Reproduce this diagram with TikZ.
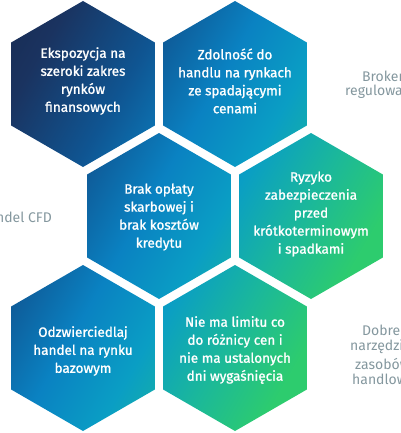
\documentclass[tikz,border=0pt]{standalone}
\usepackage{tikz}
\usepackage{fontspec}
\setmainfont{Fira Sans}
\newfontfamily\hexfont{Fira Sans}[FakeBold=1.2]
\definecolor{g0}{HTML}{182A50}
\definecolor{g1}{HTML}{1A3360}
\definecolor{g2}{HTML}{0F5592}
\definecolor{g3}{HTML}{0A82C2}
\definecolor{g4}{HTML}{0A9EC4}
\definecolor{g5}{HTML}{1BB89A}
\definecolor{g6}{HTML}{2DCC6E}
\definecolor{sidegray}{HTML}{84979E}
\pgfdeclareverticalshading{hexgrad}{100bp}{color(0bp)=(g0); color(26.5bp)=(g0); color(31.5bp)=(g1); color(39bp)=(g2); color(45.7bp)=(g3); color(51.5bp)=(g4); color(57.4bp)=(g5); color(63.2bp)=(g6); color(100bp)=(g6)}
\newcommand\hexcell[1]{(#1) ++(90:83pt) -- ++(210:83pt) -- ++(270:83pt) -- ++(330:83pt) -- ++(30:83pt) -- ++(90:83pt) -- cycle}
\begin{document}
\begin{tikzpicture}[x=1pt,y=1pt,
  hextext/.style={text=white, font=\hexfont\fontsize{13.5}{18}\selectfont, align=center, inner sep=0pt},
  sidetext/.style={text=sidegray, font=\fontsize{14}{17}\selectfont, inner sep=0pt}]
\useasboundingbox (0,0) rectangle (400,-433);
\clip (0,0) rectangle (400,-433);
\coordinate (c1) at (83,-84);
\coordinate (c2) at (235,-84);
\coordinate (c3) at (159,-216);
\coordinate (c4) at (311,-216);
\coordinate (c5) at (83,-348);
\coordinate (c6) at (235,-348);
\begin{scope}
  \clip \hexcell{c1} \hexcell{c2} \hexcell{c3} \hexcell{c4} \hexcell{c5} \hexcell{c6};
  \shade[shading=hexgrad, shading angle=-120] (-100,-516.5) rectangle (500,83.5);
\end{scope}
\node[hextext] (t1) at (83,-81) {Ekspozycja na\\szeroki zakres\\rynków\\finansowych};
\node[hextext] (t2) at (235,-81) {Zdolność do\\handlu na rynkach\\ze spadającymi\\cenami};
\node[hextext] (t3) at (159,-217) {Brak opłaty\\skarbowej i\\brak kosztów\\kredytu};
\node[hextext] (t4) at (311,-214) {Ryzyko\\zabezpieczenia\\przed\\krótkoterminowym\\i spadkami};
\node[hextext] (t5) at (83,-351) {Odzwierciedlaj\\handel na rynku\\bazowym};
\node[hextext] (t6) at (235,-350) {Nie ma limitu co\\do różnicy cen i\\nie ma ustalonych\\dni wygaśnięcia};
\node[sidetext, anchor=west] (s1) at (362,-76) {Broker};
\node[sidetext, anchor=west] (s2) at (345,-92) {regulowany};
\node[sidetext, anchor=east] (s3) at (52,-217) {Handel CFD};
\node[sidetext, anchor=west] (s4) at (362,-330) {Dobre};
\node[sidetext, anchor=west] (s5) at (350,-347) {narzędzia};
\node[sidetext, anchor=west] (s6) at (355,-364) {zasobów};
\node[sidetext, anchor=west] (s7) at (352,-381) {handlowych};
\end{tikzpicture}
\end{document}
